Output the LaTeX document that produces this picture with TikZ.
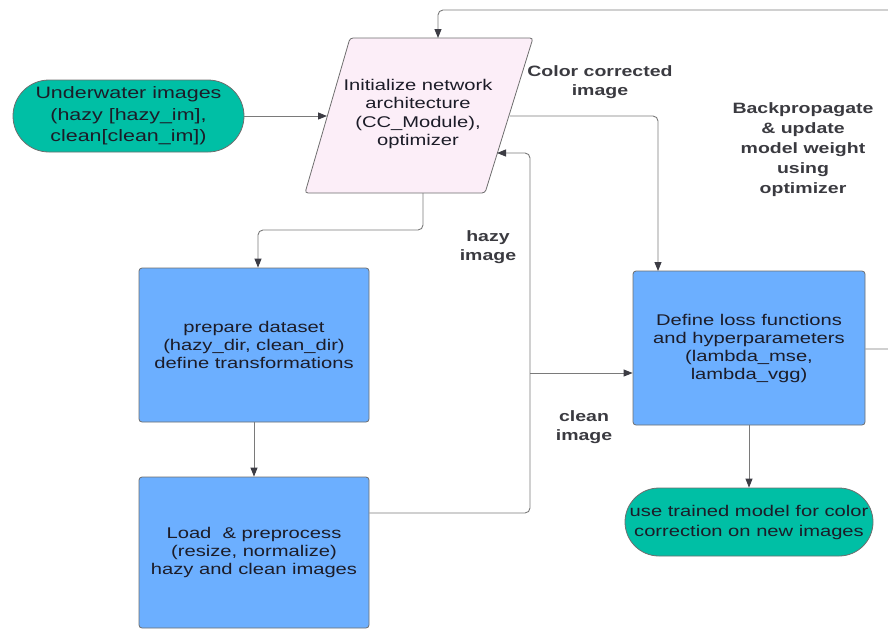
\documentclass[tikz,border=0pt]{standalone}
\usepackage{fontspec}
\setmainfont{Liberation Sans}[FakeStretch=1.3]
\usetikzlibrary{arrows.meta,calc}
\definecolor{ovalteal}{HTML}{00BFA5}
\definecolor{boxblue}{HTML}{6CAFFF}
\definecolor{parapink}{HTML}{FCEEF8}
\definecolor{edgegray}{HTML}{6E6E6E}
\definecolor{linegray}{HTML}{7A7A7A}
\definecolor{tipgray}{HTML}{3C3C44}
\definecolor{txtdark}{HTML}{1C1C28}
\definecolor{lblgray}{HTML}{3A3A40}
\begin{document}
\begin{tikzpicture}[x=1pt,y=-1pt,
  conn/.style={draw=linegray, line width=0.9pt, rounded corners=5pt},
  arr/.style={conn, -{Triangle[length=9pt,width=7pt,color=tipgray]}},
  ovalbox/.style={draw=edgegray, line width=0.8pt, fill=ovalteal, text=txtdark, align=center, inner sep=0pt},
  bluebox/.style={draw=edgegray, line width=0.8pt, fill=boxblue, rounded corners=3pt, text=txtdark, align=center, inner sep=0pt, minimum width=230pt, minimum height=154pt, font=\fontsize{15.5}{18}\selectfont},
  lbl/.style={text=lblgray, align=center, inner sep=0pt, font=\bfseries\fontsize{15}{19}\selectfont}
]
\useasboundingbox (0,0) rectangle (888,630);
\clip (0,0) rectangle (888,630);

% nodes
\node[ovalbox, minimum width=231pt, minimum height=72pt, rounded corners=36pt,
      font=\fontsize{16.5}{21.5}\selectfont] (under) at (128.5,116)
      {Underwater images\\(hazy [hazy\_im],\\clean[clean\_im])};

\draw[fill=parapink, draw=edgegray, line width=0.8pt, rounded corners=3pt]
  (350,38) -- (533,38) -- (485,193) -- (305,193) -- cycle;
\node[text=txtdark, align=center, inner sep=0pt, font=\fontsize{15.5}{18.5}\selectfont] (init) at (418,114)
  {Initialize network\\architecture\\(CC\_Module),\\optimizer};
\coordinate (initL) at (327,116);
\coordinate (initR) at (510,116);
\coordinate (initRin) at (497,153);
\coordinate (initT) at (438,38);
\coordinate (initB) at (423,193);

\node[bluebox] (prep) at (254,345) {prepare dataset\\(hazy\_dir, clean\_dir)\\define transformations};
\node[bluebox, minimum height=151pt] (load) at (254,552.5) {Load \ \& preprocess\\(resize, normalize)\\hazy and clean images};
\node[bluebox, minimum width=232pt] (loss) at (749,348) {Define loss functions\\and hyperparameters\\(lambda\_mse,\\lambda\_vgg)};

\node[ovalbox, minimum width=248pt, minimum height=68pt, rounded corners=34pt,
      font=\fontsize{15.5}{20}\selectfont] (use) at (749,522)
      {use trained model for color\\correction on new images};

% labels
\node[lbl] (lcc) at (600,82) {Color corrected\\image};
\node[lbl, font=\bfseries\fontsize{15}{20}\selectfont] (lbp) at (803,150) {Backpropagate\\\& update\\model weight\\using\\optimizer};
\node[lbl] (lhazy) at (488,247) {hazy\\image};
\node[lbl] (lclean) at (584,427) {clean\\image};

% connectors
\draw[arr] (under.east) -- (initL);
\draw[arr] (initB) -- (423,230) -- ([xshift=4pt]prep.north |- 0,230) -- ([xshift=4pt]prep.north);
\draw[arr] (prep.south) -- (load.north);
\draw[arr] (initR) -- (658,116) -- (658,271);
\coordinate (hz) at (530,513);
\draw[arr] (load.east |- hz) -- (hz) -- (530,153) -- (initRin);
\coordinate (cl) at (530,373);
\draw[arr] (cl) -- (loss.west |- cl);
\draw[arr] (loss.south) -- (use.north);
\draw[arr] (loss.east |- 0,349) -- (905,349) -- (905,10) -- (438,10) -- (initT);
\end{tikzpicture}
\end{document}
